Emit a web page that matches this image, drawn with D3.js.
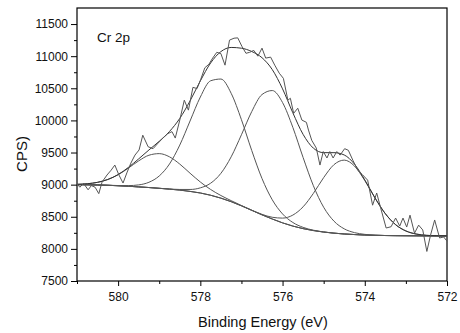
<!DOCTYPE html>
<html>
<head>
<meta charset="utf-8">
<title>Cr 2p</title>
<script src="https://d3js.org/d3.v7.min.js"></script>
<style>
  body { margin: 0; background: #fff; }
  svg { display: block; font-family: "Liberation Sans", Arial, sans-serif; }
  .axis text { font-size: 12px; fill: #111; }
  .axis path, .axis line { stroke: #000; }
</style>
</head>
<body>
<div id="chart"></div>
<script>
// ******* Data *******
// measured spectrum (binding energy, counts per second)
const measEnergy = [581.00, 580.93, 580.84, 580.73, 580.65, 580.56, 580.47, 580.39, 580.27, 580.17,
  580.08, 579.98, 579.88, 579.78, 579.69, 579.59, 579.49, 579.40, 579.27, 579.15,
  579.03, 578.91, 578.79, 578.69, 578.61, 578.50, 578.39, 578.29, 578.18, 578.08,
  577.99, 577.89, 577.79, 577.70, 577.60, 577.50, 577.40, 577.29, 577.18, 577.09,
  576.99, 576.89, 576.80, 576.70, 576.60, 576.50, 576.41, 576.29, 576.19, 576.08,
  575.98, 575.87, 575.81, 575.73, 575.63, 575.53, 575.42, 575.37, 575.29, 575.18,
  575.09, 575.01, 574.92, 574.85, 574.77, 574.68, 574.60, 574.49, 574.40, 574.29,
  574.17, 574.05, 573.93, 573.81, 573.71, 573.60, 573.48, 573.36, 573.25, 573.15,
  573.07, 572.98, 572.90, 572.79, 572.69, 572.59, 572.49, 572.40, 572.30, 572.18,
  572.08, 572.00];
const measCps = [9010, 8960, 9020, 8920, 8985, 8960, 8860, 9040, 9150, 9225,
  9305, 9150, 9025, 9195, 9335, 9460, 9540, 9770, 9590, 9560,
  9645, 9725, 9795, 9825, 9725, 10005, 10315, 10160, 10515, 10495,
  10640, 10820, 10875, 10970, 11060, 11040, 10860, 11250, 11280, 11285,
  11155, 11045, 11060, 11090, 11000, 11125, 10970, 10985, 10860, 10735,
  10655, 10315, 10345, 10110, 10190, 10005, 9970, 9850, 9690, 9570,
  9305, 9515, 9415, 9515, 9415, 9515, 9460, 9560, 9535, 9380,
  9225, 9150, 9070, 8680, 8870, 8605, 8325, 8345, 8480, 8355,
  8480, 8340, 8525, 8245, 8370, 8295, 7960, 8215, 8450, 8170,
  8185, 8120];

// fit grid (eV)
const fitEnergy = [581, 580.75, 580.5, 580.25, 580, 579.75, 579.5, 579.25, 579, 578.75,
  578.5, 578.25, 578, 577.75, 577.5, 577.25, 577, 576.75, 576.5, 576.25,
  576, 575.75, 575.5, 575.25, 575, 574.75, 574.5, 574.25, 574, 573.75,
  573.5, 573.25, 573, 572.75, 572.5, 572.25, 572];
// Shirley background
const background = [9000, 8998, 8995, 8990, 8983, 8975, 8965, 8955, 8943, 8930,
  8915, 8895, 8870, 8835, 8790, 8735, 8670, 8600, 8530, 8465,
  8405, 8355, 8315, 8285, 8262, 8245, 8232, 8223, 8216, 8211,
  8208, 8206, 8205, 8204, 8203, 8203, 8202];
// fitted components, counts above background
const peak1 = [5, 16, 41, 90, 171, 283, 405, 503, 540, 503,
  405, 283, 171, 90, 41, 16, 5, 2, 0, 0,
  0, 0, 0, 0, 0, 0, 0, 0, 0, 0,
  0, 0, 0, 0, 0, 0, 0];
const peak2 = [0, 0, 0, 1, 3, 10, 31, 82, 192, 392,
  701, 1096, 1494, 1782, 1854, 1687, 1341, 932, 565, 299,
  139, 56, 20, 6, 2, 0, 0, 0, 0, 0,
  0, 0, 0, 0, 0, 0, 0];
const peak3 = [0, 0, 0, 0, 0, 0, 0, 0, 0, 3,
  10, 30, 80, 187, 386, 698, 1107, 1537, 1873, 2000,
  1873, 1537, 1107, 698, 386, 187, 80, 30, 10, 3,
  0, 0, 0, 0, 0, 0, 0];
const peak4 = [0, 0, 0, 0, 0, 0, 0, 0, 0, 0,
  0, 0, 0, 0, 0, 0, 1, 2, 8, 27,
  74, 171, 340, 579, 848, 1066, 1150, 1066, 848, 579,
  340, 171, 74, 27, 8, 2, 1];
const peaks = [peak1, peak2, peak3, peak4];

const xMajor = [580, 578, 576, 574, 572];
const xMinor = [581, 579, 577, 575, 573];
const yMajor = [7500, 8000, 8500, 9000, 9500, 10000, 10500, 11000, 11500];
const yMinor = [7750, 8250, 8750, 9250, 9750, 10250, 10750, 11250];

// ******* Layout *******
const width = 460, height = 333;
const margin = {top: 8, right: 13, bottom: 52, left: 77};

const svg = d3.select("#chart").append("svg")
    .attr("width", width)
    .attr("height", height);

const x = d3.scaleLinear()
    .domain([581, 572])
    .range([margin.left, width - margin.right]);
const y = d3.scaleLinear()
    .domain([7500, 11750])
    .range([height - margin.bottom, margin.top]);

// ******* Axes *******
const gx = svg.append("g")
    .attr("class", "axis")
    .attr("transform", `translate(0,${height - margin.bottom})`);
gx.call(d3.axisBottom(x).tickValues(xMinor).tickSize(3).tickFormat(""));
gx.append("g").call(d3.axisBottom(x).tickValues(xMajor).tickSize(5).tickSizeOuter(0)
    .tickPadding(6).tickFormat(d3.format("d")));
gx.selectAll(".domain").remove();

const gy = svg.append("g")
    .attr("class", "axis")
    .attr("transform", `translate(${margin.left},0)`);
gy.call(d3.axisLeft(y).tickValues(yMinor).tickSize(3).tickFormat(""));
gy.append("g").call(d3.axisLeft(y).tickValues(yMajor).tickSize(6).tickSizeOuter(0)
    .tickPadding(3).tickFormat(d3.format("d")));
gy.selectAll(".domain").remove();

// frame
svg.append("rect")
    .attr("x", margin.left)
    .attr("y", margin.top)
    .attr("width", width - margin.left - margin.right)
    .attr("height", height - margin.top - margin.bottom)
    .attr("fill", "none")
    .attr("stroke", "#000")
    .attr("stroke-width", 1.2);

// ******* Curves *******
const plot = svg.append("g");

const fitLine = d3.line()
    .x(d => x(d[0]))
    .y(d => y(d[1]))
    .curve(d3.curveMonotoneX);

// background
plot.append("path")
    .datum(fitEnergy.map((e, i) => [e, background[i]]))
    .attr("d", fitLine)
    .attr("fill", "none")
    .attr("stroke", "#333")
    .attr("stroke-width", 1);

// components on top of background
peaks.forEach(p => {
  plot.append("path")
      .datum(fitEnergy.map((e, i) => [e, background[i] + p[i]]))
      .attr("d", fitLine)
      .attr("fill", "none")
      .attr("stroke", "#555")
      .attr("stroke-width", 1);
});

// envelope
plot.append("path")
    .datum(fitEnergy.map((e, i) => [e, background[i] + d3.sum(peaks, p => p[i])]))
    .attr("d", fitLine)
    .attr("fill", "none")
    .attr("stroke", "#333")
    .attr("stroke-width", 1);

// measured data
plot.append("path")
    .datum(measEnergy.map((e, i) => [e, measCps[i]]))
    .attr("d", d3.line().x(d => x(d[0])).y(d => y(d[1])))
    .attr("fill", "none")
    .attr("stroke", "#555")
    .attr("stroke-width", 1);

// ******* Labels *******
svg.append("text")
    .attr("x", 97)
    .attr("y", 42)
    .attr("font-size", 13.5)
    .attr("fill", "#111")
    .text("Cr 2p");

svg.append("text")
    .attr("x", 263)
    .attr("y", 327)
    .attr("text-anchor", "middle")
    .attr("font-size", 14.5)
    .attr("fill", "#111")
    .text("Binding Energy (eV)");

// the reference shows the y label without its opening bracket
svg.append("text")
    .attr("transform", "translate(27,154) rotate(-90)")
    .attr("text-anchor", "middle")
    .attr("font-size", 15)
    .attr("fill", "#111")
    .text("CPS)");
</script>
</body>
</html>
